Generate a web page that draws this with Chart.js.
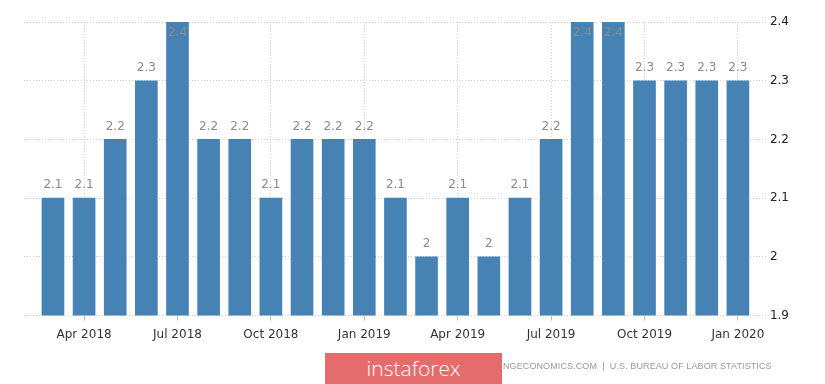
<!DOCTYPE html>
<html><head><meta charset="utf-8">
<script src="https://cdn.jsdelivr.net/npm/chart.js@4"></script>
<style>
html,body{margin:0;padding:0;background:#fff;}
#wrap{position:relative;width:825px;height:384px;overflow:hidden;}
canvas{position:absolute;left:0;top:0;}
#src{position:absolute;left:503px;top:361px;font:9px "Liberation Sans";color:#999;letter-spacing:0.1px;white-space:nowrap;}
#wm{position:absolute;left:325px;top:353px;width:177px;height:31px;background:#e46c6c;color:#fff;font:300 21px "Open Sans";text-align:center;line-height:30px;}
</style></head>
<body><div id="wrap"><canvas id="c" width="825" height="384"></canvas><div id="src">NGECONOMICS.COM &nbsp;|&nbsp; U.S. BUREAU OF LABOR STATISTICS</div><div id="wm">instaforex</div></div>
<script>
const months = ['Mar 2018','Apr 2018','May 2018','Jun 2018','Jul 2018','Aug 2018','Sep 2018','Oct 2018','Nov 2018','Dec 2018','Jan 2019','Feb 2019','Mar 2019','Apr 2019','May 2019','Jun 2019','Jul 2019','Aug 2019','Sep 2019','Oct 2019','Nov 2019','Dec 2019','Jan 2020'];
const values = [2.1,2.1,2.2,2.3,2.4,2.2,2.2,2.1,2.2,2.2,2.2,2.1,2.0,2.1,2.0,2.1,2.2,2.4,2.4,2.3,2.3,2.3,2.3];
const tickLabels = ['Apr 2018','Jul 2018','Oct 2018','Jan 2019','Apr 2019','Jul 2019','Oct 2019','Jan 2020'];
const yTicks = [1.9,2.0,2.1,2.2,2.3,2.4];

const labelPlugin = {
  id:'vlabels',
  afterDatasetsDraw(chart){
    const ctx = chart.ctx, meta = chart.getDatasetMeta(0), top = chart.chartArea.top;
    ctx.save();
    ctx.font = '12px "DejaVu Sans"';
    ctx.fillStyle = '#8a8a8a';
    ctx.textAlign = 'center';
    ctx.textBaseline = 'middle';
    meta.data.forEach((bar,i)=>{
      const y = Math.max(bar.y - 13, top + 11);
      ctx.fillText(String(values[i]), bar.x, y);
    });
    ctx.restore();
  }
};

new Chart(document.getElementById('c'), {
  type:'bar',
  data:{datasets:[{data: months.map((m,i)=>({x:i,y:values[i]})), backgroundColor:'#4682b4', barThickness:22}]},
  options:{
    responsive:false, animation:false, devicePixelRatio:1,
    layout:{padding:{left:24,right:32,top:22,bottom:35}},
    plugins:{legend:{display:false},tooltip:{enabled:false}},
    scales:{
      x:{type:'linear', min:-0.93, max:22.9, offset:false,
        afterBuildTicks(s){ s.ticks = tickLabels.map(l=>({value: months.indexOf(l)})); },
        ticks:{callback:(v)=>months[v], color:'#333', font:{family:'DejaVu Sans',size:12}, padding:7, maxRotation:0, autoSkip:false},
        grid:{offset:false, color:'#d0d0d0', tickLength:5, tickColor:'#bbb', tickBorderDash:[]},
        border:{display:false, dash:[1,2]}
      },
      y:{position:'right', min:1.9, max:2.4,
        afterBuildTicks(s){ s.ticks = yTicks.map(v=>({value:v})); },
        ticks:{callback:(v)=>String(Math.round(v*10)/10), color:'#222', font:{family:'DejaVu Sans',size:12}, padding:4},
        grid:{color:'#d0d0d0', drawTicks:false},
        border:{display:false, dash:[1,2]}
      }
    }
  },
  plugins:[labelPlugin]
});
</script>
</body></html>
